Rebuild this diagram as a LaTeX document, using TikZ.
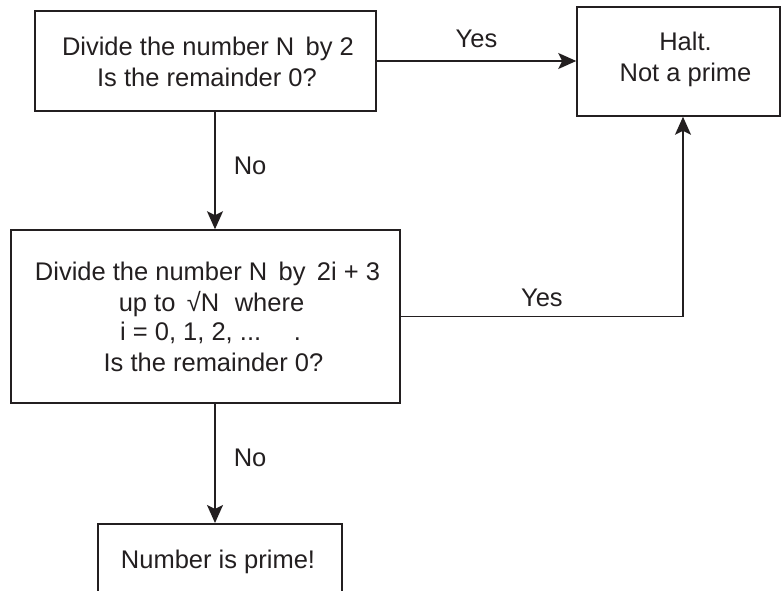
\documentclass[tikz,border=0pt]{standalone}
\usepackage{fontspec}
\setmainfont{Liberation Sans}
\usetikzlibrary{arrows.meta}
\definecolor{ink}{HTML}{231F20}
\newcommand{\lowr}[1]{\raisebox{-4pt}[18pt][5pt]{#1}}
\begin{document}
\begin{tikzpicture}[x=1pt,y=-1pt,
  box/.style={draw=ink, line width=1.5pt, text=ink, align=center, inner sep=0pt,
    font=\fontsize{25.5}{31}\selectfont},
  lbl/.style={text=ink, font=\fontsize{25.5}{31}\selectfont, inner sep=0pt},
  arr/.style={draw=ink, line width=1.5pt, -{Stealth[length=18pt,width=16pt,inset=4pt]}}]
\useasboundingbox (0,0) rectangle (781,591);
\clip (0,0) rectangle (781,591);
\node[box, minimum width=341pt, minimum height=100pt] (b1) at (205.5,61)
  {\lowr{\hspace*{5pt}Divide the number N\, by 2}\\\lowr{\hspace*{3pt}Is the remainder 0?}};
\node[box, minimum width=203pt, minimum height=109pt] (halt) at (678.5,61.5)
  {\hspace*{14pt}Halt.\\\hspace*{14pt}Not a prime\\[-22pt]\mbox{}};
\node[box, minimum width=244pt, minimum height=120pt, anchor=north] (b3) at (220,523)
  {\raisebox{0pt}[0pt][0pt]{\raisebox{15pt}{\hspace*{-4pt}Number is prime!}}};
\node[box, minimum width=389pt, minimum height=173pt] (b2) at (205.5,316.5)
  {\hspace*{4pt}Divide the number N\, by\, 2i + 3\\
   \hspace*{12pt}up to\, √N\,\, where\\[-2pt]
   \hspace*{10pt}i = 0, 1, 2, ...\quad\ .\\
   \hspace*{16pt}Is the remainder 0?};
\coordinate (c1) at (215,0);
\coordinate (c2) at (683,0);
\draw[arr] (b1.east) -- (halt.west |- b1.east) node[lbl, pos=0.5, above=12pt] (y1) {Yes};
\draw[arr] (b1.south -| c1) -- (b2.north -| c1) node[lbl, pos=0.46, right=18pt] (n1) {No};
\draw[arr] (b2.south -| c1) -- (b3.north -| c1) node[lbl, pos=0.45, right=18pt] (n2) {No};
\draw[arr] (b2.east) -| (halt.south -| c2) node[lbl, pos=0.25, above=9pt] (y2) {Yes};
\end{tikzpicture}
\end{document}
